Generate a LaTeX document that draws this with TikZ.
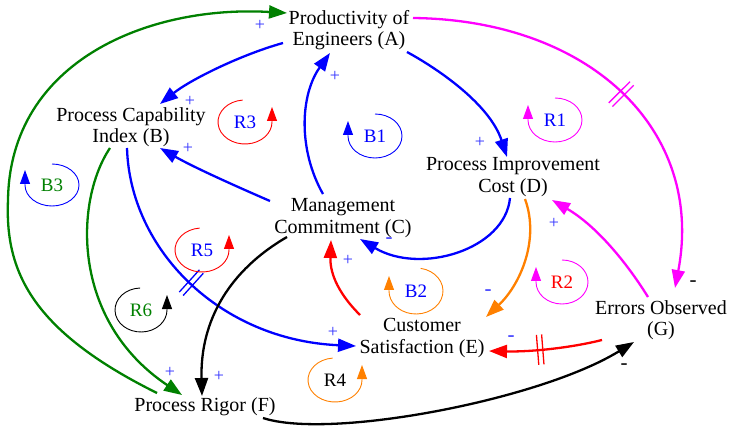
\documentclass[tikz,border=0pt]{standalone}
\usepackage{fontspec}
\setmainfont{Liberation Serif}
\usetikzlibrary{arrows.meta,decorations.markings}
\definecolor{cldgreen}{RGB}{0,128,0}
\definecolor{cldorange}{RGB}{255,128,0}
\definecolor{cldmagenta}{RGB}{255,0,255}
\definecolor{cldblue}{RGB}{0,0,255}
\definecolor{cldred}{RGB}{255,0,0}
\definecolor{signblue}{RGB}{50,50,255}

\begin{document}
\begin{tikzpicture}[x=1pt,y=-1pt,
  var/.style={align=center,font=\fontsize{20}{21.5}\selectfont,inner sep=0pt},
  link/.style={line width=2.3pt,-{Triangle[length=18pt,width=13pt]}},
  loopline/.style={line width=0.9pt,-{Triangle[length=14pt,width=10pt]}},
  looplab/.style={font=\fontsize{19}{19}\selectfont,inner sep=0pt},
  plussign/.style={font=\fontsize{18}{18}\selectfont,text=signblue,inner sep=0pt},
  minussign/.style={font=\fontsize{21}{21}\selectfont,inner sep=0pt},
  delaymark/.style={postaction={decorate,decoration={markings,
      mark=at position #1 with {\draw[-,line width=1.3pt] (-2.6,-15)--(-2.6,15) (2.6,-15)--(2.6,15);}}}}
]
\useasboundingbox (0,0) rectangle (730,427);

% variables
\node[var] (A) at (349,30) {Productivity of\\Engineers (A)};
\node[var] (B) at (131,127) {Process Capability\\Index (B)};
\node[var] (C) at (343,218) {Management\\Commitment (C)};
\node[var] (D) at (513,177) {Process Improvement\\Cost (D)};
\node[var] (E) at (422,338) {Customer\\Satisfaction (E)};
\node[var] (F) at (205,407) {Process Rigor (F)};
\node[var] (G) at (661,320) {Errors Observed\\(G)};

% causal links
\draw[link,cldgreen] ([shift={(-48,-14)}]F.center) .. controls (30,330) and (5,270) .. (8,200)
  .. controls (10,60) and (150,5) .. ([shift={(-62,-17)}]A.center);
\draw[link,cldgreen] ([shift={(-21,21)}]B.center) .. controls (75,200) and (70,320) .. ([shift={(-23,-12)}]F.center);
\draw[link,cldblue] ([shift={(-66,13)}]A.center) .. controls (240,55) and (190,80) .. ([shift={(29,-23)}]B.center);
\draw[link,cldblue] ([shift={(-73,-17)}]C.center) .. controls (240,188) and (195,168) .. ([shift={(29,21)}]B.center);
\draw[link,cldblue] ([shift={(-20,-24)}]C.center) .. controls (298,150) and (300,95) .. ([shift={(-19,23)}]A.center);
\draw[link,cldblue] ([shift={(58,22)}]A.center) .. controls (440,70) and (490,105) .. ([shift={(-6,-20)}]D.center);
\draw[link,cldblue] ([shift={(-3,21)}]D.center) .. controls (505,250) and (420,275) .. ([shift={(17,21)}]C.center);
\draw[link,cldblue,delaymark=0.46] ([shift={(-4,21)}]B.center) .. controls (130,250) and (220,340) .. ([shift={(-66,8)}]E.center);
\draw[link,cldorange] ([shift={(12,22)}]D.center) .. controls (540,240) and (520,285) .. ([shift={(64,-21)}]E.center);
\draw[link,cldmagenta] ([shift={(-13,-23)}]G.center) .. controls (625,260) and (595,225) .. ([shift={(39,23)}]D.center);
\draw[link,cldmagenta,delaymark=0.52] ([shift={(64,-12)}]A.center) .. controls (590,20) and (705,130) .. ([shift={(14,-32)}]G.center);
\draw[link,cldred,delaymark=0.55] ([shift={(-59,20)}]G.center) .. controls (570,348) and (530,352) .. ([shift={(67,13)}]E.center);
\draw[link,cldred] ([shift={(-62,-23)}]E.center) .. controls (335,290) and (330,270) .. ([shift={(-12,22)}]C.center);
\draw[link,black] ([shift={(-56,19)}]C.center) .. controls (230,270) and (200,320) .. ([shift={(-3,-11)}]F.center);
\draw[link,black] ([shift={(58,11)}]F.center) .. controls (330,440) and (540,400) .. ([shift={(-27,22)}]G.center);

% link polarities
\node[plussign] (p1) at (260,25) {+};
\node[plussign] (p2) at (335,76) {+};
\node[plussign] (p3) at (190,101) {+};
\node[plussign] (p4) at (188,148) {+};
\node[plussign] (p5) at (480,142) {+};
\node[plussign] (p6) at (348,260) {+};
\node[plussign] (p7) at (554,223) {+};
\node[plussign] (p8) at (333,332) {+};
\node[plussign] (p9) at (170,372) {+};
\node[plussign] (p10) at (219,376) {+};
\node[minussign,text=signblue] (m1) at (389,241) {-};
\node[minussign,text=signblue] (m2) at (488,293) {-};
\node[minussign,text=signblue] (m3) at (511,339) {-};
\node[minussign] (m4) at (693,284) {-};
\node[minussign] (m5) at (624,367) {-};

% loop identifiers
\node[looplab,text=cldblue] (r3) at (245,122) {R3};
\draw[loopline,cldred] (r3.center) ++(-95:27 and 22) arc[start angle=-95,end angle=-360,x radius=27,y radius=22] -- ++(0,-15);
\node[looplab,text=cldblue] (r5) at (202,250) {R5};
\draw[loopline,cldred] (r5.center) ++(-95:27 and 22) arc[start angle=-95,end angle=-360,x radius=27,y radius=22] -- ++(0,-15);
\node[looplab,text=cldgreen] (r6) at (141,310) {R6};
\draw[loopline,black] (r6.center) ++(-92:26 and 22) arc[start angle=-92,end angle=-360,x radius=26,y radius=22] -- ++(0,-15);
\node[looplab,text=black] (r4) at (335,380) {R4};
\draw[loopline,cldorange] (r4.center) ++(-95:27 and 22) arc[start angle=-95,end angle=-360,x radius=27,y radius=22] -- ++(0,-15);

\node[looplab,text=cldblue] (b1) at (375,136) {B1};
\draw[loopline,cldblue] (b1.center) ++(-90:27 and 22) arc[start angle=-90,end angle=180,x radius=27,y radius=22] -- ++(0,-15);
\node[looplab,text=cldblue] (r1) at (555,120) {R1};
\draw[loopline,cldmagenta] (r1.center) ++(-90:27 and 22) arc[start angle=-90,end angle=180,x radius=27,y radius=22] -- ++(0,-15);
\node[looplab,text=cldgreen] (b3) at (52,185) {B3};
\draw[loopline,cldblue] (b3.center) ++(-90:27 and 21) arc[start angle=-90,end angle=180,x radius=27,y radius=21] -- ++(0,-15);
\node[looplab,text=cldblue] (b2) at (416,291) {B2};
\draw[loopline,cldorange] (b2.center) ++(-80:27 and 23) arc[start angle=-80,end angle=180,x radius=27,y radius=23] -- ++(0,-15);
\node[looplab,text=cldred] (r2) at (562,282) {R2};
\draw[loopline,cldmagenta] (r2.center) ++(-90:26 and 22) arc[start angle=-90,end angle=180,x radius=26,y radius=22] -- ++(0,-15);
\end{tikzpicture}
\end{document}
